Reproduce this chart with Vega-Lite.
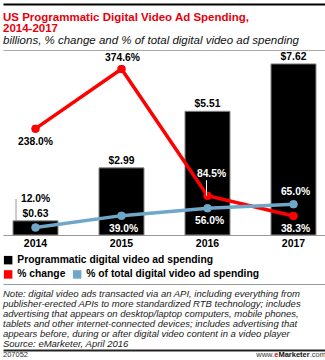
{
  "$schema": "https://vega.github.io/schema/vega-lite/v6.json",
  "padding": {"left": 0, "right": 0, "top": 1, "bottom": 0},
  "background": "white",
  "spacing": 35,
  "config": {"view": {"stroke": null}, "font": "Liberation Sans"},
  "vconcat": [
    {
      "spacing": 4,
      "vconcat": [
        {
          "width": 325,
          "height": 1,
          "data": {"values": [{"k": 0}]},
          "mark": {"type": "point", "opacity": 0},
          "encoding": {
            "x": {"datum": 0, "type": "quantitative", "scale": {"domain": [0, 1]},
              "axis": {"orient": "top", "labels": false, "ticks": false, "grid": false, "title": null, "domainColor": "#000000", "domainWidth": 2}}
          }
        },
        {
          "width": 325,
          "height": 185,
          "title": {
            "text": ["US Programmatic Digital Video Ad Spending,", "2014-2017"],
            "subtitle": "billions, % change and % of total digital video ad spending",
            "anchor": "start",
            "frame": "group",
            "font": "Liberation Sans",
            "fontSize": 11.5,
            "fontWeight": "bold",
            "color": "#e5000b",
            "lineHeight": 11,
            "subtitleFont": "Liberation Sans",
            "subtitleFontSize": 11.5,
            "subtitleFontStyle": "italic",
            "subtitleColor": "#111111",
            "subtitlePadding": 0,
            "offset": 4
          },
          "data": {"values": [
            {"year": "2014", "spending": 0.63, "change": 238.0, "share": 12.0},
            {"year": "2015", "spending": 2.99, "change": 374.6, "share": 39.0},
            {"year": "2016", "spending": 5.51, "change": 84.5, "share": 56.0},
            {"year": "2017", "spending": 7.62, "change": 38.3, "share": 65.0}
          ]},
          "layer": [
            {
              "encoding": {
                "x": {"field": "year", "type": "nominal",
                  "scale": {"paddingInner": 0.4767, "paddingOuter": 0.128, "align": 0.4545},
                  "axis": {"orient": "bottom", "title": null, "ticks": false, "labelAngle": 0, "labelFont": "Liberation Sans", "labelFontSize": 10.5, "labelFontWeight": "bold", "labelColor": "#000000", "labelPadding": 3, "domainColor": "#999999", "domainWidth": 1}},
                "y": {"field": "spending", "type": "quantitative", "scale": {"domain": [0, 8.24], "nice": false, "zero": false}, "axis": null}
              },
              "layer": [
                {
                  "mark": {"type": "bar", "stroke": "#888888", "strokeWidth": 1},
                  "encoding": {
                    "fill": {"datum": "Programmatic digital video ad spending", "type": "nominal",
                      "scale": {"range": ["#000000"]},
                      "legend": {"orient": "none", "legendX": 0, "legendY": 251, "title": null, "symbolType": "square", "symbolSize": 72, "symbolStrokeWidth": 0, "labelFont": "Liberation Sans", "labelFontSize": 10.3, "labelFontWeight": "bold", "labelColor": "#000000", "labelLimit": 300, "labelOffset": 4, "padding": 0}}
                  }
                },
                {
                  "mark": {"type": "text", "text": {"expr": "'$' + format(datum.spending, '.2f')"}, "baseline": "alphabetic", "dy": -4, "font": "Liberation Sans", "fontWeight": "bold", "fontSize": 10.3, "color": "#000000"}
                }
              ]
            },
            {
              "transform": [{"fold": ["change", "share"], "as": ["key", "value"]}],
              "encoding": {
                "x": {"field": "year", "type": "nominal",
                  "axis": {"orient": "top", "labels": false, "ticks": false, "title": null, "domainColor": "#aaaaaa", "domainWidth": 1}},
                "y": {"field": "value", "type": "quantitative", "scale": {"domain": [-5.3, 418], "nice": false, "zero": false}, "axis": null}
              },
              "layer": [
                {
                  "mark": {"type": "circle", "size": 64, "opacity": 1},
                  "encoding": {"color": {"field": "key", "type": "nominal", "scale": {"domain": ["change", "share"], "range": ["#ff0000", "#6ea7c8"]},
                    "legend": {"orient": "none", "legendX": 0, "legendY": 265, "direction": "horizontal", "title": null, "symbolType": "square", "symbolSize": 72, "symbolStrokeWidth": 0, "labelFont": "Liberation Sans", "labelFontSize": 10.3, "labelFontWeight": "bold", "labelColor": "#000000", "labelLimit": 300, "labelOffset": 4, "columnPadding": 6, "padding": 0,
                      "labelExpr": "datum.label == 'change' ? '% change' : '% of total digital video ad spending'"}}}
                },
                {
                  "mark": {"type": "line", "strokeWidth": 3.5},
                  "encoding": {"color": {"field": "key", "type": "nominal"}}
                },
                {
                  "mark": {"type": "circle", "size": 64, "opacity": 1},
                  "encoding": {"color": {"field": "key", "type": "nominal"}}
                },
                {
                  "transform": [{"filter": "datum.key == 'change' && datum.year == '2016'"}],
                  "mark": {"type": "rule", "color": "#ffffff", "strokeWidth": 1, "xOffset": -1},
                  "encoding": {"y2": {"datum": 120}}
                },
                {
                  "transform": [{"filter": "datum.key == 'share' && datum.year == '2014'"}],
                  "mark": {"type": "rule", "color": "#999999", "strokeWidth": 1},
                  "encoding": {
                    "x": {"field": "year", "type": "nominal", "bandPosition": 0.067},
                    "y": {"datum": 77},
                    "y2": {"datum": 26.8}
                  }
                },
                {
                  "transform": [{"filter": "datum.key == 'change' && datum.year == '2014'"}],
                  "mark": {"type": "text", "text": {"expr": "format(datum.value, '.1f') + '%'"}, "baseline": "middle", "dy": 13, "font": "Liberation Sans", "fontWeight": "bold", "fontSize": 10.3, "color": "#000000"}
                },
                {
                  "transform": [{"filter": "datum.key == 'change' && datum.year == '2015'"}],
                  "mark": {"type": "text", "text": {"expr": "format(datum.value, '.1f') + '%'"}, "baseline": "middle", "dy": -11, "dx": 1, "font": "Liberation Sans", "fontWeight": "bold", "fontSize": 10.3, "color": "#000000"}
                },
                {
                  "transform": [{"filter": "datum.key == 'change' && datum.year == '2016'"}],
                  "mark": {"type": "text", "text": {"expr": "format(datum.value, '.1f') + '%'"}, "baseline": "middle", "dy": -22, "dx": 4, "font": "Liberation Sans", "fontWeight": "bold", "fontSize": 10.3, "color": "#ffffff"}
                },
                {
                  "transform": [{"filter": "(datum.key == 'change' && datum.year == '2017') || (datum.key == 'share' && (datum.year == '2015' || datum.year == '2016'))"}],
                  "mark": {"type": "text", "text": {"expr": "format(datum.value, '.1f') + '%'"}, "baseline": "middle", "dy": 13, "dx": 2, "font": "Liberation Sans", "fontWeight": "bold", "fontSize": 10.3, "color": "#ffffff"}
                },
                {
                  "transform": [{"filter": "datum.key == 'share' && datum.year == '2014'"}],
                  "mark": {"type": "text", "text": {"expr": "format(datum.value, '.1f') + '%'"}, "baseline": "middle", "dy": -28.5, "font": "Liberation Sans", "fontWeight": "bold", "fontSize": 10.3, "color": "#000000"}
                },
                {
                  "transform": [{"filter": "datum.key == 'share' && datum.year == '2017'"}],
                  "mark": {"type": "text", "text": {"expr": "format(datum.value, '.1f') + '%'"}, "baseline": "middle", "dy": -12, "dx": 2, "font": "Liberation Sans", "fontWeight": "bold", "fontSize": 10.3, "color": "#ffffff"}
                }
              ]
            }
          ],
          "resolve": {"scale": {"y": "independent"}, "axis": {"x": "independent"}}
        }
      ]
    },
    {
      "width": 325,
      "height": 66,
      "layer": [
        {
          "data": {"values": [
            {"line": 1, "text": "Note: digital video ads transacted via an API, including everything from"},
            {"line": 2, "text": "publisher-erected APIs to more standardized RTB technology; includes"},
            {"line": 3, "text": "advertising that appears on desktop/laptop computers, mobile phones,"},
            {"line": 4, "text": "tablets and other internet-connected devices; includes advertising that"},
            {"line": 5, "text": "appears before, during or after digital video content in a video player"},
            {"line": 6, "text": "Source: eMarketer, April 2016"}
          ]},
          "mark": {"type": "text", "align": "left", "baseline": "middle", "font": "Liberation Sans", "fontStyle": "italic", "fontSize": 9.5, "color": "#1a1a1a"},
          "encoding": {
            "x": {"datum": 0, "type": "quantitative", "scale": {"domain": [0, 1], "nice": false},
              "axis": {"orient": "top", "labels": false, "ticks": false, "grid": false, "title": null, "domainColor": "#999999", "domainWidth": 1}},
            "y": {"field": "line", "type": "quantitative", "scale": {"domain": [-0.06, 6.607], "reverse": true, "nice": false, "zero": false}, "axis": null},
            "text": {"field": "text"}
          }
        },
        {
          "layer": [
            {
              "data": {"values": [{"label": "207052"}]},
              "mark": {"type": "text", "align": "left", "baseline": "middle", "font": "Liberation Sans", "fontSize": 7.5, "color": "#333333"},
              "encoding": {
                "x": {"datum": 0, "type": "quantitative", "axis": {"orient": "bottom", "labels": false, "ticks": false, "grid": false, "title": null, "domainColor": "#222222", "domainWidth": 2}},
                "y": {"datum": 7.1, "type": "quantitative"},
                "text": {"field": "label"}
              }
            },
            {
              "data": {"values": [{"label": ".com"}]},
              "mark": {"type": "text", "align": "right", "baseline": "middle", "dx": -2, "font": "Liberation Sans", "fontSize": 7.5, "color": "#333333"},
              "encoding": {
                "x": {"datum": 1, "type": "quantitative", "axis": {"orient": "bottom", "labels": false, "ticks": false, "grid": false, "title": null, "domainColor": "#222222", "domainWidth": 2}},
                "y": {"datum": 7.1, "type": "quantitative"},
                "text": {"field": "label"}
              }
            },
            {
              "data": {"values": [{"label": "Marketer"}]},
              "mark": {"type": "text", "align": "right", "baseline": "middle", "dx": -18.3, "font": "Liberation Sans", "fontWeight": "bold", "fontSize": 7.5, "color": "#111111"},
              "encoding": {
                "x": {"datum": 1, "type": "quantitative", "axis": {"orient": "bottom", "labels": false, "ticks": false, "grid": false, "title": null, "domainColor": "#222222", "domainWidth": 2}},
                "y": {"datum": 7.1, "type": "quantitative"},
                "text": {"field": "label"}
              }
            },
            {
              "data": {"values": [{"label": "e"}]},
              "mark": {"type": "text", "align": "right", "baseline": "middle", "dx": -49.6, "font": "Liberation Sans", "fontWeight": "bold", "fontSize": 7.5, "color": "#e5000b"},
              "encoding": {
                "x": {"datum": 1, "type": "quantitative", "axis": {"orient": "bottom", "labels": false, "ticks": false, "grid": false, "title": null, "domainColor": "#222222", "domainWidth": 2}},
                "y": {"datum": 7.1, "type": "quantitative"},
                "text": {"field": "label"}
              }
            },
            {
              "data": {"values": [{"label": "www."}]},
              "mark": {"type": "text", "align": "right", "baseline": "middle", "dx": -53.8, "font": "Liberation Sans", "fontSize": 7.5, "color": "#333333"},
              "encoding": {
                "x": {"datum": 1, "type": "quantitative", "axis": {"orient": "bottom", "labels": false, "ticks": false, "grid": false, "title": null, "domainColor": "#222222", "domainWidth": 2}},
                "y": {"datum": 7.1, "type": "quantitative"},
                "text": {"field": "label"}
              }
            }
          ]
        }
      ],
      "resolve": {"axis": {"x": "independent"}}
    }
  ]
}
